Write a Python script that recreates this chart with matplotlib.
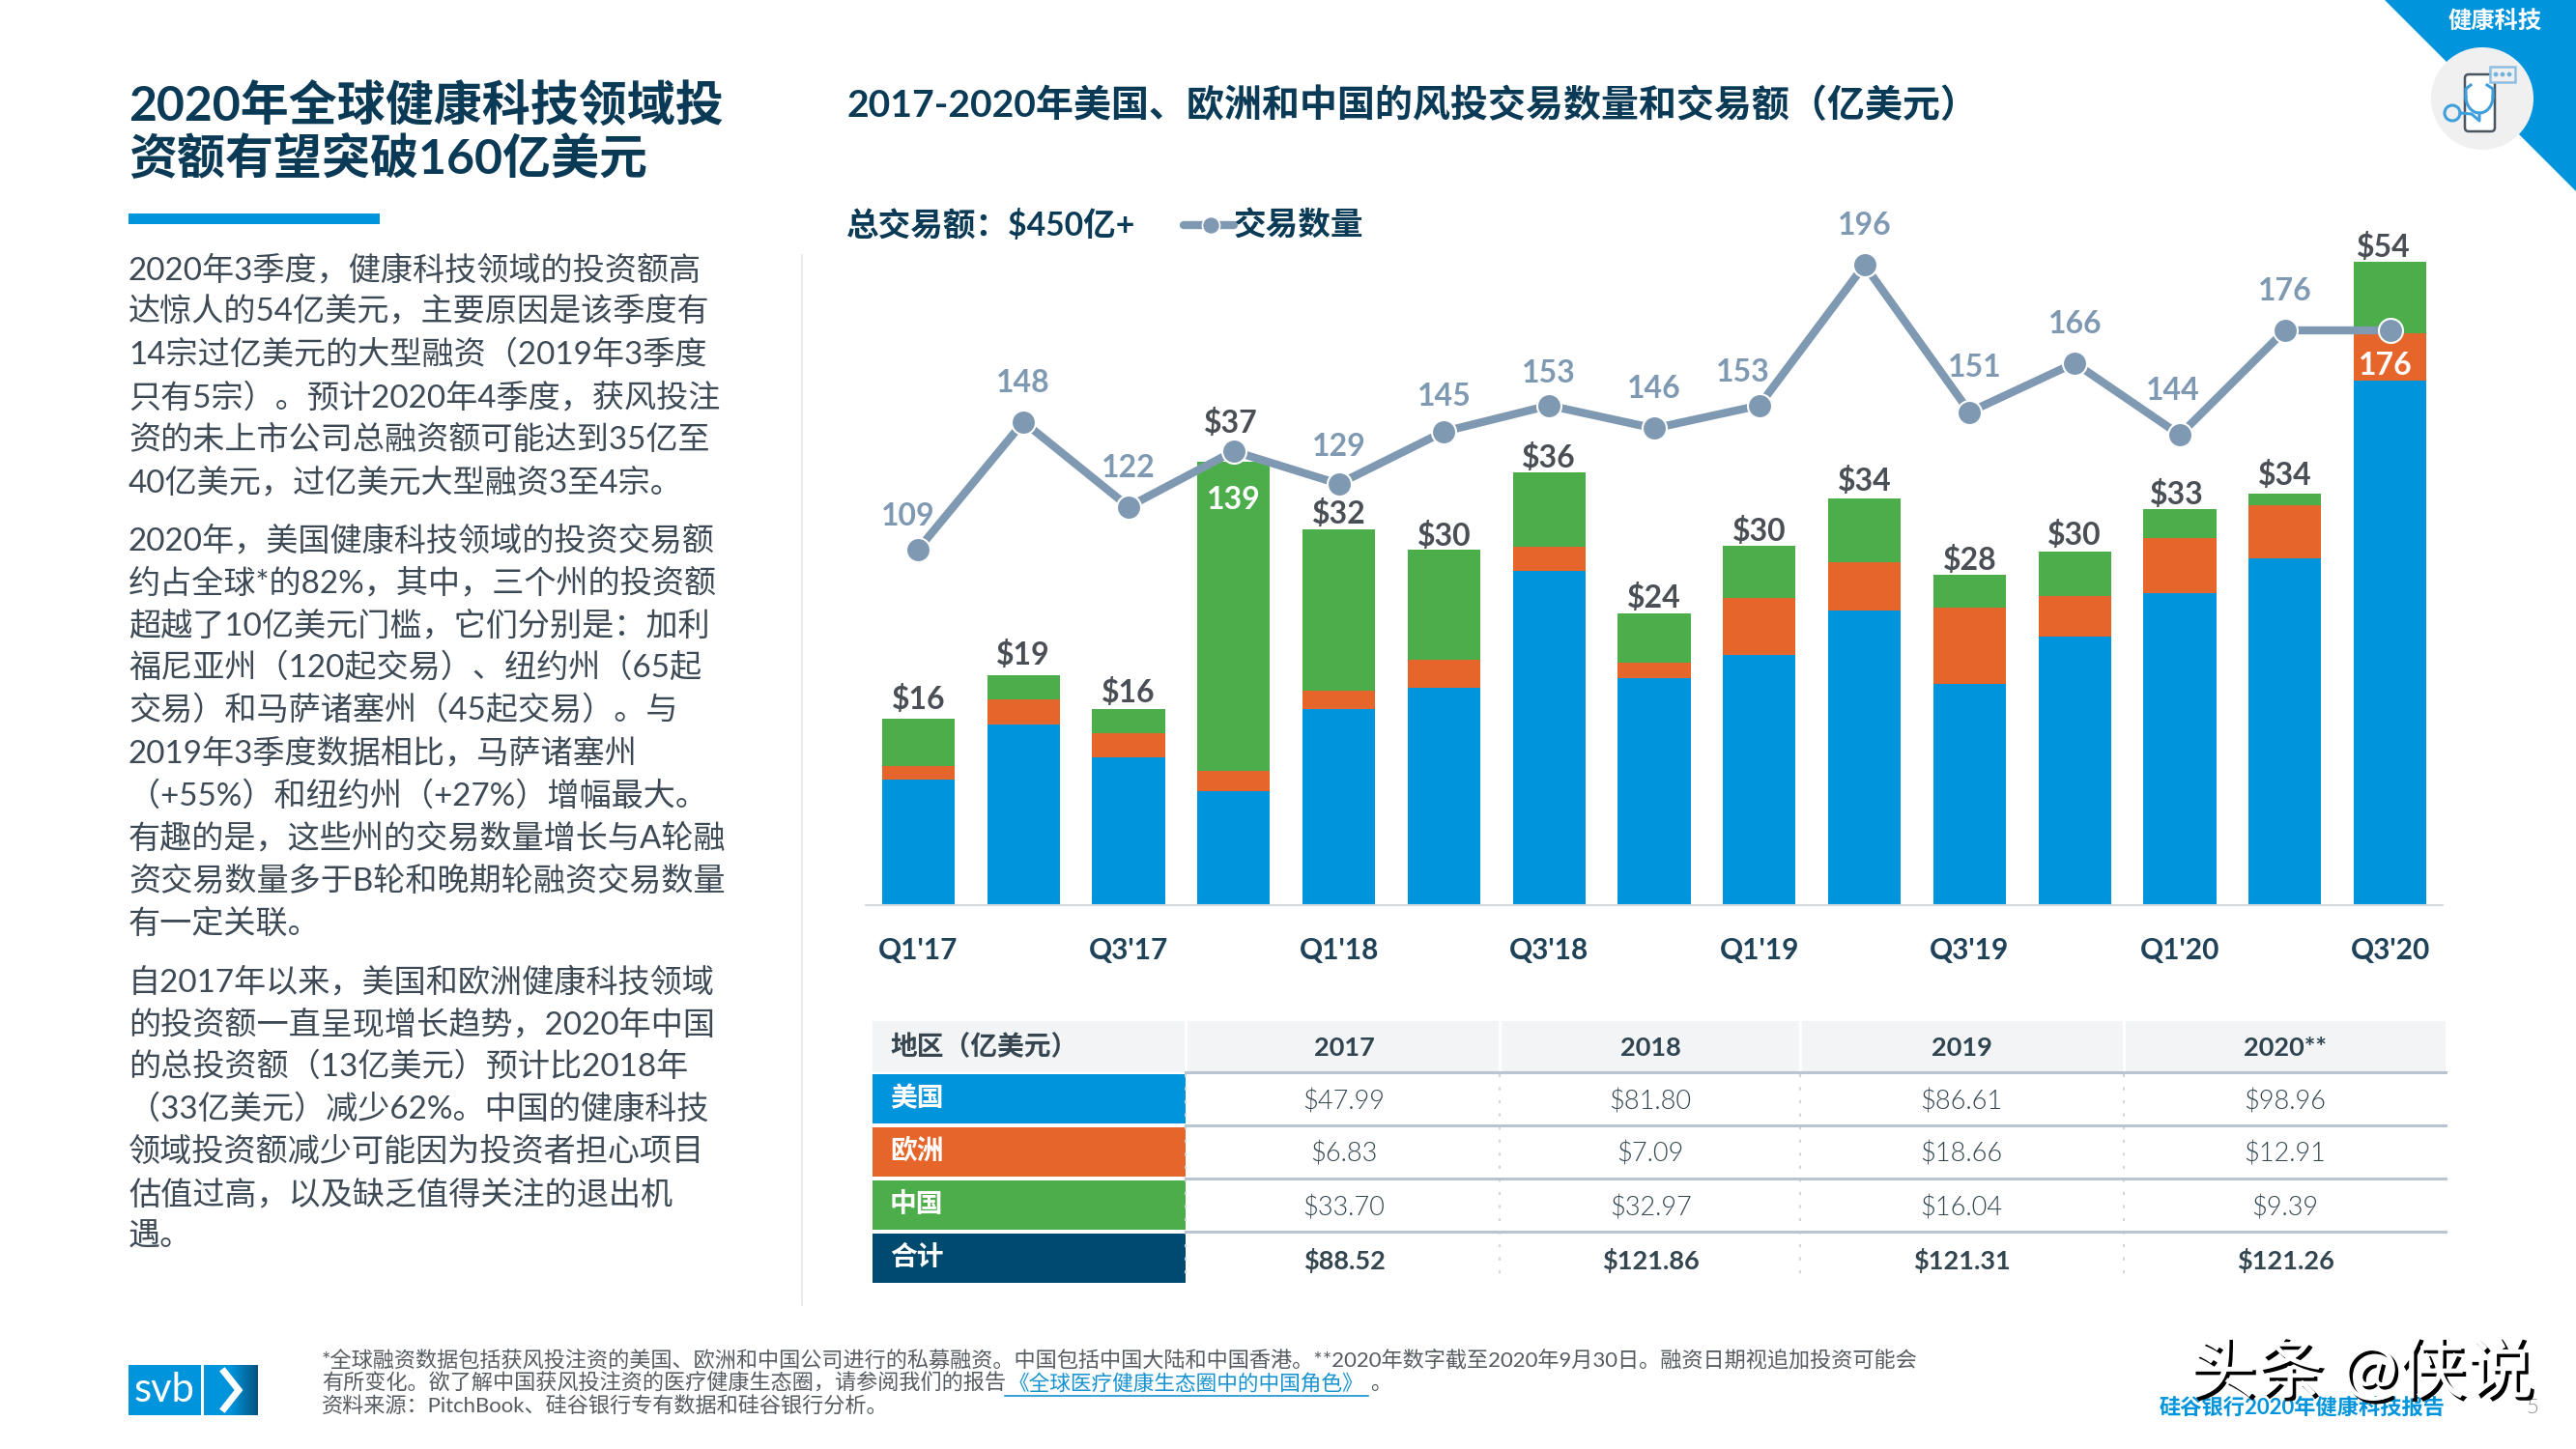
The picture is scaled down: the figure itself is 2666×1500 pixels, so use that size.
import matplotlib
matplotlib.use("Agg")
import matplotlib.pyplot as plt
import matplotlib.patheffects as pe
from matplotlib.patches import Polygon, Circle, Rectangle, FancyBboxPatch
import numpy as np

plt.rcParams['font.family'] = ['Lato', 'Noto Sans CJK SC', 'DejaVu Sans']

# Chart data
quarters = ["Q1'17", "Q2'17", "Q3'17", "Q4'17", "Q1'18", "Q2'18", "Q3'18", "Q4'18",
            "Q1'19", "Q2'19", "Q3'19", "Q4'19", "Q1'20", "Q2'20", "Q3'20"]
us_values = [10.6, 15.2, 12.4, 9.6, 16.5, 18.3, 28.1, 19.1, 21.0, 24.8, 18.6, 22.6, 26.2, 29.2, 44.1]
europe_values = [1.1, 2.1, 2.1, 1.7, 1.5, 2.3, 2.0, 1.3, 4.8, 4.0, 6.4, 3.4, 4.7, 4.4, 4.0]
china_values = [4.0, 2.0, 2.0, 26.0, 13.6, 9.3, 6.3, 4.1, 4.4, 5.4, 2.8, 3.7, 2.4, 1.0, 6.0]
total_labels = ["$16", "$19", "$16", "$37", "$32", "$30", "$36", "$24",
                "$30", "$34", "$28", "$30", "$33", "$34", "$54"]
deal_counts = [109, 148, 122, 139, 129, 145, 153, 146, 153, 196, 151, 166, 144, 176, 176]

# Table data
table_regions = ["美国", "欧洲", "中国", "合计"]
table_years = ["2017", "2018", "2019", "2020**"]
us_row = ["$47.99", "$81.80", "$86.61", "$98.96"]
europe_row = ["$6.83", "$7.09", "$18.66", "$12.91"]
china_row = ["$33.70", "$32.97", "$16.04", "$9.39"]
total_row = ["$88.52", "$121.86", "$121.31", "$121.26"]

# Left column text
headline = ["2020年全球健康科技领域投", "资额有望突破160亿美元"]
para_1 = ["2020年3季度，健康科技领域的投资额高",
          "达惊人的54亿美元，主要原因是该季度有",
          "14宗过亿美元的大型融资（2019年3季度",
          "只有5宗）。预计2020年4季度，获风投注",
          "资的未上市公司总融资额可能达到35亿至",
          "40亿美元，过亿美元大型融资3至4宗。"]
para_2 = ["2020年，美国健康科技领域的投资交易额",
          "约占全球*的82%，其中，三个州的投资额",
          "超越了10亿美元门槛，它们分别是：加利",
          "福尼亚州（120起交易）、纽约州（65起",
          "交易）和马萨诸塞州（45起交易）。与",
          "2019年3季度数据相比，马萨诸塞州",
          "（+55%）和纽约州（+27%）增幅最大。",
          "有趣的是，这些州的交易数量增长与A轮融",
          "资交易数量多于B轮和晚期轮融资交易数量",
          "有一定关联。"]
para_3 = ["自2017年以来，美国和欧洲健康科技领域",
          "的投资额一直呈现增长趋势，2020年中国",
          "的总投资额（13亿美元）预计比2018年",
          "（33亿美元）减少62%。中国的健康科技",
          "领域投资额减少可能因为投资者担心项目",
          "估值过高，以及缺乏值得关注的退出机",
          "遇。"]

BLUE = "#0094dc"
ORANGE = "#e5652a"
GREEN = "#4cae4a"
DARK = "#004a6f"
NAVY = "#0a3a55"
SLATE = "#7f99b2"
GREY_TEXT = "#4a4f55"
BODY = "#3d4a55"

W, H = 2666, 1500
fig = plt.figure(figsize=(W / 100, H / 100), dpi=100, facecolor="white")

# Page layer in pixel coordinates
page = fig.add_axes([0, 0, 1, 1])
page.set_xlim(0, W)
page.set_ylim(H, 0)
page.axis("off")

# Corner tab with icon
page.add_patch(Polygon([(2468, 0), (W, 0), (W, 198)], closed=True, fc=BLUE, ec="none"))
page.add_patch(Circle((2569, 102), 53, fc="#f0f0f0", ec="none"))
page.text(2582, 22, "健康科技", color="white", fontsize=17.5, fontweight="bold", ha="center", va="center")
page.add_patch(FancyBboxPatch((2551, 77), 31, 59, boxstyle="round,pad=0,rounding_size=4",
                              fc="white", ec="#4a5560", lw=1.8))
page.add_patch(Rectangle((2577, 69), 26, 16, fc="#f0f0f0", ec="#8fbfe0", lw=1.8))
for dot_x in [2583, 2590, 2597]:
    page.add_patch(Circle((dot_x, 77), 2.4, fc="#6fb3de", ec="none"))
theta = np.linspace(0, np.pi, 30)
page.plot(2566 + 14 * np.cos(theta), 100 + 17 * np.sin(theta), color="#3f9fdc", lw=2.2)
page.plot([2552, 2552, 2557], [100, 92, 88], color="#3f9fdc", lw=2.2)
page.plot([2580, 2580, 2574], [100, 92, 88], color="#3f9fdc", lw=2.2)
page.plot([2566, 2566, 2558, 2546], [117, 125, 118, 117], color="#3f9fdc", lw=2.2)
page.add_patch(Circle((2538, 117), 8, fc="#f0f0f0", ec="#3f9fdc", lw=2.2))

# Headline and body
for line, y in zip(headline, [110, 164]):
    page.text(133, y, line, color=NAVY, fontsize=36, fontweight="bold", va="center")
page.add_patch(Rectangle((133, 221), 260, 11, fc=BLUE, ec="none"))
for lines, start_y in [(para_1, 279), (para_2, 559), (para_3, 1016)]:
    for i, line in enumerate(lines):
        page.text(133, start_y + i * 44.1, line, color=BODY, fontsize=23.85, va="center")
page.plot([830, 830], [264, 1351], color="#e3e6e9", lw=1.2)

# Right title and legend row
page.text(876, 108, "2017-2020年美国、欧洲和中国的风投交易数量和交易额（亿美元）",
          color=NAVY, fontsize=28.1, fontweight="bold", va="center")
page.text(876, 233, "总交易额：$450亿+", color=NAVY, fontsize=24.2, fontweight="bold", va="center")
page.plot([1225, 1277], [233, 233], color=SLATE, lw=6, solid_capstyle="round")
page.plot([1253], [233], color=SLATE, marker="o", ms=13, mec="white", mew=1.2)
page.text(1277, 233, "交易数量", color=NAVY, fontsize=24.2, fontweight="bold", va="center")

# Stacked bars on their own axes
ax = fig.add_axes([896 / W, (H - 937) / H, 1632 / W, 737 / H], facecolor="none")
x = np.arange(len(quarters))
bar_width = 0.69
us = np.array(us_values)
europe = np.array(europe_values)
china = np.array(china_values)
ax.bar(x, us, bar_width, color=BLUE)
ax.bar(x, europe, bar_width, bottom=us, color=ORANGE)
ax.bar(x, china, bar_width, bottom=us + europe, color=GREEN)
ax.set_xlim(-0.5, 14.5)
ax.set_ylim(0, 59.87)
ax.set_yticks([])
ax.set_xticks(x[::2])
ax.set_xticklabels(quarters[::2], fontsize=21.5, fontweight="bold", color="#1f4258")
ax.tick_params(axis="x", length=0, pad=24)
for side in ["top", "left", "right"]:
    ax.spines[side].set_visible(False)
ax.spines["bottom"].set_color("#d5dadf")
ax.spines["bottom"].set_linewidth(1.5)

# The $37 label sits above the line marker
total_lift = [20, 21, 17, 40, 16, 14, 15, 16, 15, 18, 15, 17, 15, 19, 15]
total_dx = [0, 0, 0, -3, 0, 0, 0, 0, 0, 0, 0, 0, -3, 0, -7]
for xi, top, label, lift, dx in zip(x, us + europe + china, total_labels, total_lift, total_dx):
    ax.annotate(label, (xi, top), xytext=(dx, lift), textcoords="offset pixels",
                ha="center", va="center", fontsize=23, fontweight="bold", color=GREY_TEXT)

# Deal count line on a second scale
ax2 = ax.twinx()
ax2.set_ylim(0, 218)
ax2.set_yticks([])
ax2.patch.set_visible(False)
for side in ax2.spines:
    ax2.spines[side].set_visible(False)
ax2.plot(x, deal_counts, color=SLATE, lw=6, solid_joinstyle="miter",
         marker="o", ms=18, mfc=SLATE, mec="white", mew=1.5)
count_dx = [-11, 0, 0, 0, 0, 0, 0, 0, -17, 0, 5, 0, -7, 0, -5]
count_dy = [34, 40, 40, -50, 38, 36, 33, 41, 34, 41, 46, 40, 46, 40, -37]
for xi, count, dx, dy in zip(x, deal_counts, count_dx, count_dy):
    inside_bar = dy < 0
    ax2.annotate(str(count), (xi, count), xytext=(dx, dy), textcoords="offset pixels",
                 ha="center", va="center", fontsize=23, fontweight="bold",
                 color="white" if inside_bar else SLATE)

# Table
col_edges = [903, 1227, 1552, 1863, 2198, 2531]
col_centers = [1391, 1708, 2030, 2365]
row_edges = [1112, 1167, 1222, 1277]
row_height = 51
row_colors = [BLUE, ORANGE, GREEN, DARK]
rows = [us_row, europe_row, china_row, total_row]
page.add_patch(Rectangle((col_edges[0], 1057), col_edges[-1] - col_edges[0], 53, fc="#f2f4f6", ec="none"))
for edge in col_edges[1:-1]:
    page.plot([edge, edge], [1057, 1110], color="white", lw=2)
    page.plot([edge, edge], [1112, 1328], color="#cfd6dc", lw=1.5, ls=(0, (1.5, 5)))
page.text(921, 1084, "地区（亿美元）", color="#36454f", fontsize=20, fontweight="bold", va="center")
for center, year in zip(col_centers, table_years):
    page.text(center, 1085, year, color="#2f4450", fontsize=19.5, fontweight="bold", ha="center", va="center")
for i, (region, color, row, top) in enumerate(zip(table_regions, row_colors, rows, row_edges)):
    page.add_patch(Rectangle((col_edges[0], top), col_edges[1] - col_edges[0], row_height, fc=color, ec="none"))
    page.text(921, top + 25, region, color="white", fontsize=20, fontweight="bold", va="center")
    is_total = i == len(rows) - 1
    for center, value in zip(col_centers, row):
        page.text(center, top + 28, value, color="#33454f", fontsize=19.5, ha="center", va="center",
                  fontweight="bold" if is_total else 300)
    page.plot([col_edges[1], col_edges[-1]], [top - 2, top - 2], color="#b8c4d0", lw=2.2)

# Footer
page.add_patch(Rectangle((133, 1413), 75, 52, fc=BLUE, ec="none"))
gradient = np.linspace(0, 1, 64).reshape(1, -1)
page.imshow(gradient, extent=(211, 267, 1465, 1413), aspect="auto", zorder=1,
            cmap=matplotlib.colors.LinearSegmentedColormap.from_list("svb", [BLUE, BLUE, "#04547f"]))
page.set_xlim(0, W)
page.set_ylim(H, 0)
page.text(170, 1439, "svb", color="white", fontsize=30, ha="center", va="center", zorder=2)
page.plot([232, 247, 232], [1420, 1439, 1458], color="white", lw=5, solid_joinstyle="miter", zorder=2)

foot_color = "#555b60"
page.text(333, 1408, "*全球融资数据包括获风投注资的美国、欧洲和中国公司进行的私募融资。中国包括中国大陆和中国香港。"
          "**2020年数字截至2020年9月30日。融资日期视追加投资可能会", color=foot_color, fontsize=15.95, va="center")
page.text(333, 1432, "有所变化。欲了解中国获风投注资的医疗健康生态圈，请参阅我们的报告", color=foot_color, fontsize=15.95, va="center")
page.text(1044, 1432, "《全球医疗健康生态圈中的中国角色》", color="#1592cf", fontsize=15.6, va="center")
page.plot([1040, 1416], [1445, 1445], color="#1592cf", lw=1.2)
page.text(1418, 1432, "。", color=foot_color, fontsize=15.95, va="center")
page.text(333, 1456, "资料来源：PitchBook、硅谷银行专有数据和硅谷银行分析。", color=foot_color, fontsize=15.95, va="center")
page.text(2531, 1457, "硅谷银行2020年健康科技报告", color=BLUE, fontsize=16, fontweight="bold", ha="right", va="center")
page.text(2621, 1457, "5", color="#8a8f94", fontsize=16, fontweight=300, ha="center", va="center")

# Watermark stamped on top of the page
page.text(2265, 1420, "头条 @侠说", color="white", fontsize=50.5, va="center", zorder=5,
          path_effects=[pe.withSimplePatchShadow(offset=(2.5, -2.5), shadow_rgbFace="black", alpha=1)])

fig.savefig("out.png", dpi=100)
